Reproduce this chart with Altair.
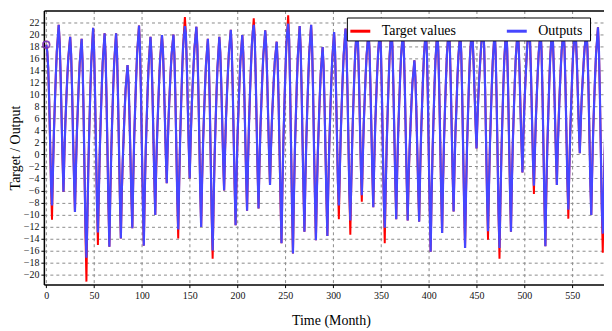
import altair as alt
import pandas as pd

# Monthly target values (12 values per line = one year)
target_values = [
    18.3, 17.2, 14.5, 9.3, 2.1, -5.1, -10.9, -2.8, 3.7, 8.6, 13.2, 17.1,
    19.3, 21.6, 18.8, 13.3, 6.3, -0.6, -6.2, 0.3, 5.4, 9.3, 12.9, 16.0,
    17.8, 19.6, 16.7, 10.8, 3.5, -3.8, -9.6, -2.4, 3.4, 7.7, 11.8, 15.3,
    17.3, 19.3, 15.2, 7.2, -3.0, -13.1, -21.2, -10.6, -2.2, 4.2, 10.1, 15.2,
    18.1, 21.1, 17.5, 10.2, 1.2, -7.9, -15.1, -6.3, 0.8, 6.1, 11.0, 15.3,
    17.7, 20.2, 16.6, 9.5, 0.6, -8.3, -15.4, -6.5, 0.6, 6.0, 11.0, 15.2,
    17.7, 20.2, 16.8, 9.9, 1.4, -7.2, -14.0, -6.8, -1.0, 3.3, 7.4, 10.9,
    12.9, 14.9, 12.2, 6.7, -0.1, -6.9, -12.3, -3.9, 2.9, 8.0, 12.7, 16.8,
    19.1, 21.5, 17.8, 10.5, 1.3, -7.9, -15.2, -6.5, 0.5, 5.7, 10.6, 14.7,
    17.2, 19.6, 16.6, 10.7, 3.3, -4.2, -10.1, -2.6, 3.4, 7.9, 12.1, 15.7,
    17.8, 19.9, 17.4, 12.5, 6.3, 0.1, -4.8, 1.4, 6.4, 10.1, 13.6, 16.5,
    18.3, 20.0, 16.6, 9.8, 1.3, -7.2, -14.0, -4.8, 2.6, 8.1, 13.3, 17.7,
    20.3, 22.9, 20.2, 14.8, 8.1, 1.4, -4.0, 2.3, 7.4, 11.2, 14.7, 17.8,
    19.5, 21.3, 18.0, 11.3, 2.9, -5.4, -12.1, -4.2, 2.0, 6.7, 11.1, 14.9,
    17.1, 19.3, 15.6, 8.3, -0.9, -10.1, -17.4, -8.2, -0.8, 4.8, 10.0, 14.4,
    17.0, 19.6, 17.0, 11.9, 5.5, -0.9, -6.0, 0.7, 6.1, 10.1, 13.8, 17.0,
    18.9, 20.8, 17.5, 11.0, 2.9, -5.3, -11.8, -3.9, 2.5, 7.2, 11.7, 15.5,
    17.7, 19.9, 17.0, 11.1, 3.8, -3.5, -9.4, -1.4, 5.0, 9.9, 14.4, 18.2,
    20.5, 22.7, 19.5, 13.2, 5.3, -2.7, -9.0, -1.6, 4.4, 8.8, 13.0, 16.5,
    18.6, 20.7, 18.1, 13.0, 6.5, 0.1, -5.1, 0.9, 5.7, 9.2, 12.6, 15.5,
    17.1, 18.8, 15.4, 8.7, 0.3, -8.1, -14.8, -5.3, 2.3, 8.0, 13.3, 17.9,
    20.5, 23.2, 19.2, 11.3, 1.4, -8.6, -16.5, -7.0, 0.6, 6.2, 11.5, 16.1,
    18.7, 21.4, 18.0, 11.1, 2.5, -6.0, -12.9, -4.3, 2.6, 7.8, 12.6, 16.8,
    19.2, 21.6, 18.0, 10.8, 1.9, -7.1, -14.3, -6.3, 0.2, 5.0, 9.5, 13.4,
    15.6, 17.9, 14.8, 8.5, 0.6, -7.3, -13.6, -5.1, 1.7, 6.8, 11.6, 15.6,
    18.0, 20.4, 17.3, 11.0, 3.2, -4.6, -10.8, -2.9, 3.5, 8.3, 12.7, 16.5,
    18.8, 21.0, 17.6, 10.7, 2.1, -6.5, -13.4, -4.7, 2.3, 7.5, 12.4, 16.6,
    19.1, 21.5, 18.6, 12.7, 5.3, -2.0, -7.9, -0.8, 4.9, 9.1, 13.1, 16.5,
    18.5, 20.5, 17.6, 11.7, 4.4, -2.9, -8.8, -1.4, 4.6, 9.1, 13.3, 16.8,
    18.9, 21.0, 17.4, 10.3, 1.3, -7.6, -14.8, -5.8, 1.4, 6.8, 11.8, 16.2,
    18.7, 21.2, 18.0, 11.6, 3.6, -4.4, -10.8, -3.0, 3.3, 8.0, 12.4, 16.2,
    18.4, 20.6, 17.4, 11.1, 3.2, -4.7, -11.0, -4.3, 1.0, 5.0, 8.8, 12.0,
    13.8, 15.7, 13.0, 7.6, 0.9, -5.8, -11.2, -3.2, 3.3, 8.1, 12.6, 16.5,
    18.7, 21.0, 17.3, 9.8, 0.5, -8.8, -16.2, -6.9, 0.4, 6.0, 11.2, 15.6,
    18.2, 20.8, 17.4, 10.6, 2.2, -6.3, -13.1, -4.5, 2.4, 7.6, 12.4, 16.6,
    19.0, 21.4, 18.3, 12.1, 4.4, -3.3, -9.5, -2.0, 4.0, 8.5, 12.7, 16.3,
    18.4, 20.5, 16.9, 9.7, 0.6, -8.4, -15.6, -6.5, 0.9, 6.4, 11.5, 15.9,
    18.4, 21.0, 19.0, 15.0, 10.0, 5.0, 1.0, 6.1, 10.1, 13.2, 16.0, 18.5,
    19.9, 21.3, 17.8, 10.7, 1.8, -7.1, -14.2, -5.5, 1.5, 6.7, 11.6, 15.7,
    18.2, 20.6, 16.8, 9.2, -0.3, -9.8, -17.4, -7.8, 0.0, 5.8, 11.2, 15.8,
    18.5, 21.2, 17.8, 11.0, 2.4, -6.1, -12.9, -4.5, 2.3, 7.3, 12.0, 16.1,
    18.4, 20.8, 18.4, 13.7, 7.7, 1.8, -3.0, 3.1, 8.0, 11.7, 15.1, 18.1,
    19.8, 21.5, 18.7, 13.1, 6.0, -1.0, -6.6, 0.2, 5.7, 9.8, 13.6, 16.9,
    18.8, 20.7, 17.1, 9.9, 0.9, -8.1, -15.3, -6.2, 1.1, 6.5, 11.6, 16.0,
    18.6, 21.1, 18.5, 13.2, 6.7, 0.1, -5.1, 1.4, 6.6, 10.5, 14.1, 17.3,
    19.1, 20.9, 17.7, 11.4, 3.5, -4.4, -10.7, -2.7, 3.7, 8.5, 13.0, 16.8,
    19.1, 21.3, 19.2, 15.0, 9.7, 4.4, 0.2, 5.3, 9.4, 12.4, 15.3, 17.7,
    19.2, 20.6, 17.5, 11.4, 3.7, -4.0, -10.1, -2.3, 4.0, 8.7, 13.1, 16.8,
    19.0, 21.2, 17.4, 9.9, 0.5, -8.9, -16.4, -7.1, 0.3, 5.9, 11.1, 15.6,
    18.2, 20.8, 17.9, 12.2, 5.0, -2.2, -8.0, -0.7, 5.1, 9.4, 13.5, 16.9,
]

# Monthly network outputs
output_values = [
    18.3, 17.2, 14.5, 9.3, 2.1, -5.1, -8.5, -2.8, 3.7, 8.6, 13.2, 17.1,
    19.3, 21.6, 18.8, 13.3, 6.3, -0.6, -6.2, 0.3, 5.4, 9.3, 12.9, 16.0,
    17.8, 19.6, 16.7, 10.8, 2.5, -3.8, -9.6, -2.4, 3.4, 7.7, 11.8, 15.3,
    17.3, 19.3, 15.2, 7.2, -3.0, -12.0, -17.2, -10.6, -2.2, 4.2, 10.1, 15.2,
    18.1, 21.1, 17.5, 10.2, 1.2, -7.9, -13.0, -6.3, 0.8, 6.1, 11.0, 15.3,
    17.7, 20.2, 16.6, 9.5, 0.6, -8.3, -15.4, -6.5, 0.6, 6.0, 11.0, 15.2,
    17.7, 20.2, 16.8, 9.9, 1.4, -7.2, -14.0, -5.9, -1.0, 3.3, 7.4, 10.9,
    12.9, 14.9, 12.2, 6.7, -0.1, -6.9, -12.3, -3.9, 2.9, 8.0, 12.7, 16.8,
    19.1, 21.5, 17.8, 10.5, 1.3, -7.9, -15.2, -6.5, 0.5, 5.7, 10.6, 14.7,
    17.2, 19.6, 16.6, 10.7, 3.3, -4.2, -10.1, -1.5, 3.4, 7.9, 12.1, 15.7,
    17.8, 19.9, 17.4, 12.5, 6.3, 0.1, -4.8, 1.4, 6.4, 10.1, 13.6, 16.5,
    18.3, 20.0, 16.6, 9.8, 1.3, -7.2, -12.5, -4.8, 2.6, 8.1, 13.3, 17.7,
    19.8, 21.4, 20.2, 14.8, 8.1, 1.4, -4.0, 2.3, 7.4, 11.2, 14.7, 17.8,
    19.5, 21.3, 18.0, 11.3, 2.9, -6.3, -12.1, -4.2, 2.0, 6.7, 11.1, 14.9,
    17.1, 19.3, 15.6, 8.3, -0.9, -10.1, -16.0, -8.2, -0.8, 4.8, 10.0, 14.4,
    17.0, 19.6, 17.0, 11.9, 5.5, -0.9, -6.0, 0.7, 6.1, 10.1, 13.8, 17.0,
    18.9, 20.8, 17.5, 11.0, 2.9, -5.3, -11.8, -3.9, 3.3, 7.2, 11.7, 15.5,
    17.7, 19.9, 17.0, 11.1, 3.8, -3.5, -9.4, -1.4, 5.0, 9.9, 14.4, 18.2,
    20.5, 21.6, 19.5, 13.2, 5.3, -2.7, -9.0, -1.6, 4.4, 8.8, 13.0, 16.5,
    18.6, 20.7, 18.1, 13.0, 6.5, 0.1, -5.1, 0.9, 5.7, 9.2, 12.6, 15.5,
    17.1, 18.8, 15.4, 8.7, 0.3, -7.0, -14.8, -5.3, 2.3, 8.0, 13.3, 17.9,
    20.5, 21.8, 19.2, 11.3, 1.4, -8.6, -16.5, -7.0, 0.6, 6.2, 11.5, 16.1,
    18.7, 21.4, 18.0, 11.1, 2.5, -6.0, -12.9, -4.3, 2.6, 7.8, 12.6, 16.8,
    19.2, 21.6, 18.0, 10.8, 0.9, -7.1, -14.3, -6.3, 0.2, 5.0, 9.5, 13.4,
    15.6, 17.9, 14.8, 8.5, 0.6, -7.3, -13.6, -5.1, 1.7, 6.8, 11.6, 15.6,
    18.0, 20.4, 17.3, 11.0, 3.2, -4.6, -8.5, -2.9, 3.5, 8.3, 12.7, 16.5,
    18.8, 21.0, 17.6, 10.7, 2.1, -6.5, -11.0, -4.7, 2.3, 7.5, 12.4, 16.6,
    19.1, 21.5, 18.6, 12.7, 5.3, -2.0, -6.8, -0.8, 4.9, 9.1, 13.1, 16.5,
    18.5, 20.5, 17.6, 11.7, 4.4, -2.9, -8.8, -1.4, 4.6, 9.1, 13.3, 16.8,
    18.9, 21.0, 17.4, 10.3, 1.3, -7.6, -12.2, -5.8, 1.4, 6.8, 11.8, 16.2,
    18.7, 21.2, 18.0, 11.6, 3.6, -4.4, -10.8, -3.0, 3.3, 8.0, 12.4, 16.2,
    18.4, 20.6, 17.4, 11.1, 3.2, -4.7, -11.0, -3.2, 1.0, 5.0, 8.8, 12.0,
    13.8, 15.7, 13.0, 7.6, 0.9, -5.8, -11.2, -3.2, 3.3, 8.1, 12.6, 16.5,
    18.7, 21.0, 17.3, 10.8, 0.5, -8.8, -16.2, -6.9, 0.4, 6.0, 11.2, 15.6,
    18.2, 20.8, 17.4, 10.6, 2.2, -6.3, -13.1, -4.5, 2.4, 7.6, 12.4, 16.6,
    19.0, 21.4, 18.3, 12.1, 4.4, -3.3, -9.5, -2.0, 4.0, 7.6, 12.7, 16.3,
    18.4, 20.5, 16.9, 9.7, 0.6, -8.4, -15.6, -6.5, 0.9, 6.4, 11.5, 15.9,
    18.4, 21.0, 19.0, 15.0, 10.0, 5.0, 1.0, 6.1, 10.1, 13.2, 16.0, 18.5,
    19.9, 21.3, 17.8, 10.7, 1.8, -7.1, -12.8, -5.5, 1.5, 6.7, 11.6, 15.7,
    18.2, 20.6, 16.8, 9.2, -0.3, -9.8, -15.6, -7.8, 0.0, 5.8, 11.2, 15.8,
    18.5, 21.2, 17.8, 11.0, 2.4, -6.1, -12.9, -4.5, 2.3, 7.3, 12.0, 16.1,
    18.4, 20.8, 18.4, 13.7, 6.8, 1.8, -3.0, 3.1, 8.0, 11.7, 15.1, 18.1,
    19.8, 21.5, 18.7, 13.1, 6.0, -1.0, -5.2, 0.2, 5.7, 9.8, 13.6, 16.9,
    18.8, 20.7, 17.1, 9.9, 0.9, -8.1, -15.3, -5.2, 1.1, 6.5, 11.6, 16.0,
    18.6, 21.1, 18.5, 13.2, 6.7, 0.1, -5.1, 1.4, 5.8, 10.5, 14.1, 17.3,
    19.1, 20.9, 17.7, 11.4, 3.5, -4.4, -9.2, -2.7, 3.7, 8.5, 13.0, 16.8,
    19.1, 21.3, 19.2, 15.0, 9.7, 4.4, 0.2, 5.3, 9.4, 12.4, 15.3, 17.7,
    19.2, 20.6, 17.5, 11.4, 3.7, -5.0, -10.1, -2.3, 4.0, 8.7, 13.1, 16.8,
    19.0, 21.2, 17.4, 9.9, 0.5, -8.9, -13.2, -7.1, 0.3, 5.9, 11.1, 15.6,
    18.2, 20.8, 17.9, 12.2, 5.0, -2.2, -8.0, -0.7, 5.1, 9.4, 13.5, 16.9,
]

series_names = ["Target values", "Outputs"]
series_colors = ["#ff0000", "#4646ff"]
x_ticks = [0, 50, 100, 150, 200, 250, 300, 350, 400, 450, 500, 550]
y_ticks = [-20, -18, -16, -14, -12, -10, -8, -6, -4, -2, 0, 2, 4, 6, 8, 10,
           12, 14, 16, 18, 20, 22]

months = list(range(len(target_values)))
df_t = pd.DataFrame({"month": months, "value": target_values, "series": series_names[0]})
df_o = pd.DataFrame({"month": months, "value": output_values, "series": series_names[1]})
df_all = pd.concat([df_t, df_o], ignore_index=True)

FONT = "Liberation Serif"
xscale = alt.Scale(domain=[-2.5, 583.3], nice=False, zero=False)
yscale = alt.Scale(domain=[-21.7, 24], nice=False, zero=False)

color = alt.Color(
    "series:N",
    scale=alt.Scale(domain=series_names, range=series_colors),
    legend=alt.Legend(
        title=" ", titleOrient="right", titlePadding=6, titleFontSize=8,
        orient="none", legendX=304, legendY=7, direction="horizontal",
        fillColor="white", strokeColor="black", padding=2,
        symbolType="stroke", symbolStrokeWidth=3, symbolSize=400,
        labelFont=FONT, labelFontSize=14, labelColor="black",
        labelOffset=10, columnPadding=44, symbolOpacity=1,
    ),
)

x_bottom = alt.Axis(
    values=x_ticks, grid=True, gridDash=[3, 3], gridColor="#8c8c8c", gridWidth=1,
    title="Time (Month)", titleX=288, titlePadding=13, labelPadding=3, format="d",
)
y_left = alt.Axis(
    values=y_ticks, grid=True, gridDash=[3, 3], gridColor="#8c8c8c", gridWidth=1,
    title="Target / Output", titlePadding=1, labelPadding=2,
)
x_top = alt.Axis(orient="top", labels=False, ticks=False, grid=False, title=None,
                 domain=True, domainColor="black", domainWidth=1.5)

line_t = alt.Chart(df_t).mark_line(strokeWidth=2, clip=True).encode(
    x=alt.X("month:Q", scale=xscale, axis=x_bottom),
    y=alt.Y("value:Q", scale=yscale, axis=y_left),
    color=color,
)
line_o = alt.Chart(df_o).mark_line(strokeWidth=2.2, clip=True).encode(
    x=alt.X("month:Q", scale=xscale, axis=None),
    y=alt.Y("value:Q", scale=yscale, axis=y_left),
    color=color,
)
pts = alt.Chart(df_all).transform_filter("datum.month == 0").mark_point(
    filled=False, size=45, strokeWidth=1.5, clip=False
).encode(
    x=alt.X("month:Q", scale=xscale, axis=x_top),
    y=alt.Y("value:Q", scale=yscale, axis=y_left),
    color=color,
)

chart = (
    alt.layer(line_t, line_o, pts)
    .resolve_axis(x="independent")
    .properties(width=562, height=275, padding={"left": 0, "top": 2, "right": 0, "bottom": 0})
    .configure_view(stroke=None)
    .configure_axis(
        labelFont=FONT, labelFontSize=10, labelColor="#111111",
        titleFont=FONT, titleFontSize=14, titleFontWeight="normal", titleColor="black",
        domainColor="black", domainWidth=1.5, tickColor="black", tickSize=3,
    )
)

chart.save("out.html", embed_options={"renderer": "svg", "actions": False})
